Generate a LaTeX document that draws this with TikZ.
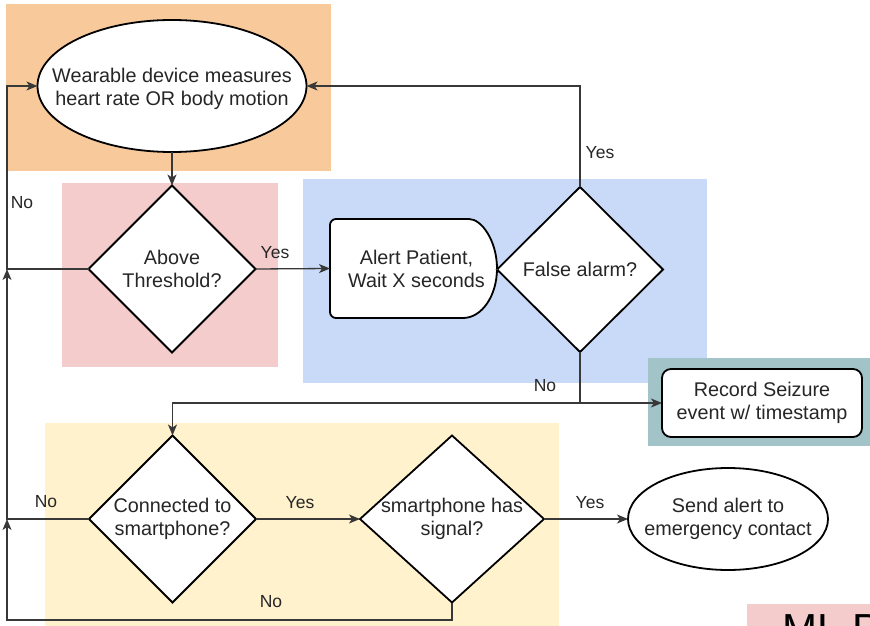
\documentclass[tikz,border=0pt]{standalone}
\usepackage{fontspec}
\setmainfont{Liberation Sans}
\usetikzlibrary{shapes.geometric, arrows.meta, calc}

\definecolor{bgorange}{HTML}{F8C99B}
\definecolor{bgpink}{HTML}{F4CCCC}
\definecolor{bgblue}{HTML}{C9DAF8}
\definecolor{bgteal}{HTML}{A2C4C9}
\definecolor{bgyellow}{HTML}{FFF2CC}
\definecolor{ink}{HTML}{262626}

\newcommand\boxfont{\fontsize{19.8pt}{23pt}\selectfont}
\newcommand\tagfont{\fontsize{17.5pt}{20pt}\selectfont}

\tikzset{
  bx/.style={draw=black, line width=1.8pt, fill=white, inner sep=0pt, outer sep=0pt},
  dia/.style={bx, diamond},
  oval/.style={bx, ellipse},
  txt/.style={align=center, font=\boxfont, text=ink, inner sep=0pt},
  conn/.style={draw=black!78, line width=1.3pt, -{Stealth[length=11pt, width=9pt, inset=3pt]}},
  plainconn/.style={draw=black!78, line width=1.3pt},
  lbl/.style={font=\tagfont, text=ink, inner sep=0pt},
}

\begin{document}
\begin{tikzpicture}[x=1pt, y=-1pt]
\useasboundingbox (0,0) rectangle (870,626);

% coloured groups behind the flow
\fill[bgorange] (6,4) rectangle (331,171);
\fill[bgpink]   (62,183) rectangle (278,367);
\fill[bgblue]   (303,179) rectangle (707,383);
\fill[bgteal]   (648,358) rectangle (870,446);
\fill[bgyellow] (45,423) rectangle (559,626);
\fill[bgpink]   (747,604) rectangle (870,626);

% partly visible heading in the corner
\begin{scope}
  \clip (0,0) rectangle (870,626);
  \node[anchor=base west, inner sep=0pt, font=\fontsize{42pt}{50pt}\selectfont, text=black] (ml) at (782,643) {ML P};
\end{scope}

% helper coordinates for the return loop
\coordinate (L) at (7,0);
\coordinate (B) at (0,620);

% measurement
\node[oval, minimum width=269pt, minimum height=132pt] (meas) at (172,86) {};
\node[txt] (meastxt) at ([yshift=-3pt]meas.center) {Wearable device measures\\heart rate OR body motion};

% threshold decision
\node[dia, minimum width=167pt, minimum height=167pt] (thr) at (172,269) {};
\node[txt] (thrtxt) at (thr.center) {Above\\Threshold?};

% alert patient (delay shape)
\node[minimum width=167pt, minimum height=99pt, inner sep=0pt, outer sep=0pt] (alert) at (413.5,268.5) {};
\draw[bx] ($(alert.south east)+(-34,0)$) [rounded corners=6pt] -- (alert.south west)
  -- (alert.north west) -- ($(alert.north east)+(-34,0)$) [sharp corners]
  .. controls ($(alert.north east)+(-15.2,0)$) and ($(alert.east)+(0,-27.3)$) .. (alert.east)
  .. controls ($(alert.east)+(0,27.3)$) and ($(alert.south east)+(-15.2,0)$) .. ($(alert.south east)+(-34,0)$)
  -- cycle;
\node[txt] (alerttxt) at ([xshift=3pt]alert.center) {Alert Patient,\\Wait X seconds};

% false alarm decision
\node[dia, minimum width=166pt, minimum height=165pt] (fa) at (580,269.5) {};
\node[txt] (fatxt) at (fa.center) {False alarm?};

% record event
\node[bx, rounded corners=9pt, minimum width=200pt, minimum height=68pt] (rec) at (762,403) {};
\node[txt] (rectxt) at (rec.center) {Record Seizure\\event w/ timestamp};

% connection decisions
\node[dia, minimum width=167pt, minimum height=167pt] (conn) at (172.5,519) {};
\node[txt] (conntxt) at (conn.center) {Connected to\\smartphone?};
\node[dia, minimum width=184pt, minimum height=167pt] (sig) at (452,519) {};
\node[txt] (sigtxt) at (sig.center) {smartphone has\\signal?};

% emergency contact
\node[oval, minimum width=200pt, minimum height=102pt] (send) at (728,519) {};
\node[txt] (sendtxt) at (send.center) {Send alert to\\emergency contact};

% connectors
\draw[conn] (meas.south) -- (thr.north);
\draw[conn] (thr.east) -- (alert.west);
\draw[plainconn] (alert.east) -- (fa.west);
\draw[conn] (fa.north) -- (fa.north |- meas.east) -- (meas.east);
\draw[conn] (thr.west) -- (thr.west -| L) -- (L |- meas.west) -- (meas.west);
\draw[conn] (fa.south) -- (fa.south |- rec.west) -- (rec.west);
\draw[conn] (fa.south |- rec.west) -- (conn.north |- rec.west) -- (conn.north);
\draw[conn] (conn.east) -- (sig.west);
\draw[conn] (conn.west) -- (conn.west -| L) -- (thr.west -| L);
\draw[conn] (sig.south) -- (sig.south |- B) -- (L |- B) -- (conn.west -| L);
\draw[conn] (sig.east) -- (send.west);

% branch labels
\node[lbl] (l1) at (275,253) {Yes};
\node[lbl] (l2) at (22,203) {No};
\node[lbl] (l3) at (600,153) {Yes};
\node[lbl] (l4) at (545,386) {No};
\node[lbl] (l5) at (46,502) {No};
\node[lbl] (l6) at (300,503) {Yes};
\node[lbl] (l7) at (271,602) {No};
\node[lbl] (l8) at (590,503) {Yes};
\end{tikzpicture}
\end{document}
